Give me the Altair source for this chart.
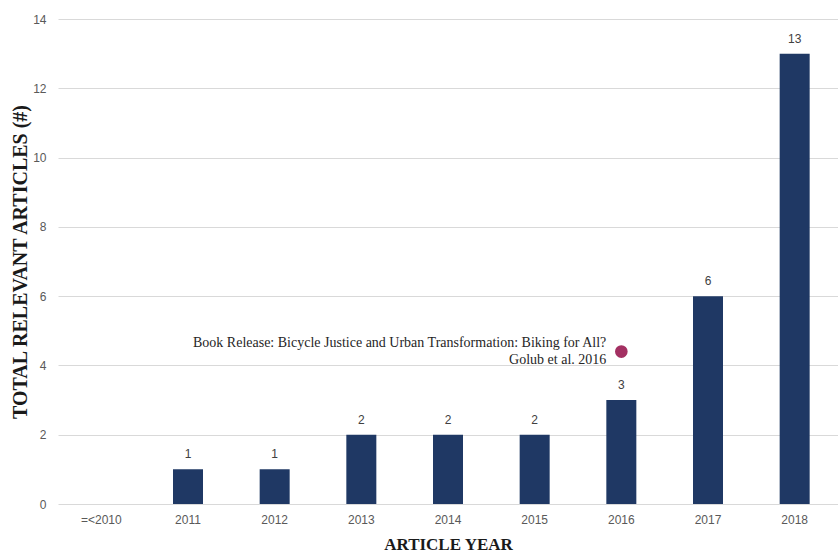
import altair as alt
import pandas as pd

years = ["=<2010", "2011", "2012", "2013", "2014", "2015", "2016", "2017", "2018"]
counts = [0, 1, 1, 2, 2, 2, 3, 6, 13]

note_year = "2016"
note_value = 4.4
note_line1 = "Book Release: Bicycle Justice and Urban Transformation: Biking for All?"
note_line2 = "Golub et al. 2016"

df = pd.DataFrame({"year": years, "count": counts})
note_df = pd.DataFrame({"year": [note_year], "value": [note_value],
                        "line1": [note_line1], "line2": [note_line2]})

xscale = alt.Scale(domain=years, paddingInner=0, paddingOuter=0)
yscale = alt.Scale(domain=[0, 14])

x_enc = alt.X("year:N", scale=xscale, sort=years,
              axis=alt.Axis(title="ARTICLE YEAR", labelAngle=0, domain=False, ticks=False,
                            labelPadding=10, labelFont="Liberation Sans", labelFontSize=12,
                            labelColor="#595959", titleFont="Liberation Serif", titleFontSize=17,
                            titleFontWeight="bold", titleColor="#1a1a1a", titlePadding=11))
y_enc = alt.Y("count:Q", scale=yscale,
              axis=alt.Axis(title="TOTAL RELEVANT ARTICLES (#)", values=list(range(0, 15, 2)),
                            domain=False, ticks=False, grid=True, gridColor="#d9d9d9",
                            labelPadding=12, labelFont="Liberation Sans", labelFontSize=12,
                            labelColor="#595959", titleFont="Liberation Serif", titleFontSize=20,
                            titleFontWeight="bold", titleColor="#1a1a1a", titlePadding=2))

xs = alt.X("year:N", scale=xscale, sort=years)

bars = alt.Chart(df).mark_bar(size=30, color="#1f3864").encode(x=x_enc, y=y_enc)

labels = alt.Chart(df).transform_filter("datum.count > 0").mark_text(
    dy=-15, font="Liberation Sans", fontSize=12, color="#404040"
).encode(x=xs, y=alt.Y("count:Q", scale=yscale), text="count:Q")

dot = alt.Chart(note_df).mark_circle(size=160, color="#a33062", opacity=1).encode(
    x=xs, y=alt.Y("value:Q", scale=yscale))

note1 = alt.Chart(note_df).mark_text(
    align="right", baseline="middle", dx=-15, dy=-9, font="Liberation Serif", fontSize=14, color="#262626"
).encode(x=xs, y=alt.Y("value:Q", scale=yscale), text="line1:N")

note2 = alt.Chart(note_df).mark_text(
    align="right", baseline="middle", dx=-15, dy=8, font="Liberation Serif", fontSize=14, color="#262626"
).encode(x=xs, y=alt.Y("value:Q", scale=yscale), text="line2:N")

chart = alt.layer(bars, labels, dot, note1, note2).properties(
    width=780, height=485, padding={"left": 10, "top": 13, "right": 0, "bottom": 0}
).configure_view(stroke=None)

chart.save("out.html", embed_options={"renderer": "svg", "actions": False})
